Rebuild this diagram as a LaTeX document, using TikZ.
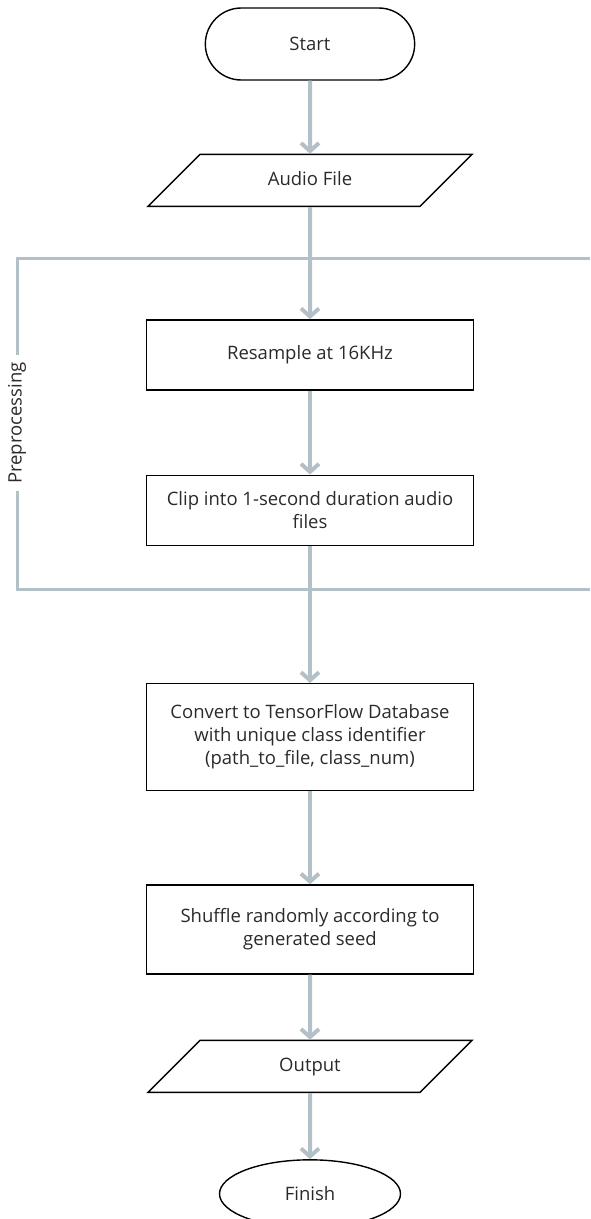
\documentclass[tikz,border=0pt]{standalone}
\usepackage{fontspec}
\setmainfont{Open Sans}
\usetikzlibrary{arrows.meta,positioning,shapes.geometric,shapes.misc}
\definecolor{linegray}{HTML}{B4C0C8}
\definecolor{textgray}{HTML}{2A2A2A}

\begin{document}
\begin{tikzpicture}[x=1pt,y=1pt,>={Straight Barb[length=8pt,width=18pt]},
	every node/.style={font=\fontsize{18.5}{23}\selectfont,text=textgray},
	terminal/.style={draw=black,line width=1.4pt,rounded rectangle,minimum width=216pt,minimum height=72pt},
	io/.style={draw=black,line width=1.4pt,trapezium,trapezium left angle=45,trapezium right angle=135,trapezium stretches body,minimum width=324pt,text height=14pt,text depth=4pt,inner xsep=0pt,inner ysep=17pt},
	process/.style={draw=black,line width=1.4pt,rectangle,minimum width=327pt,align=center},
	flow/.style={->,draw=linegray,line width=4pt},
	group/.style={draw=linegray,line width=3pt}]
	\useasboundingbox (0,0) rectangle (590,-1219);

	\node[terminal] (start) at (310,-44) {Start};
	\node[io] (audio) [below=73pt of start] {Audio File};
	\node[process,minimum height=70pt] (resample) [below=112pt of audio] {Resample at 16KHz};
	\node[process,minimum height=70pt] (clip) [below=84pt of resample] {Clip into 1-second duration audio\\files};
	\node[process,minimum height=107pt] (convert) [below=137pt of clip] {Convert to TensorFlow Database\\with unique class identifier\\(path\_to\_file, class\_num)};
	\node[process,minimum height=89pt] (shuffle) [below=93pt of convert] {Shuffle randomly according to\\generated seed};
	\node[io] (output) [below=65pt of shuffle] {Output};
	\node[draw=black,line width=1.4pt,ellipse,minimum width=181pt,minimum height=68pt,inner sep=0pt] (finish) [below=66pt of output] {Finish};

	% preprocessing frame
	\node[rotate=90,inner sep=7pt] (prelabel) at (17,-423) {Preprocessing};
	\coordinate (preTR) at (590,-258);
	\coordinate (preTL) at (17,-258);
	\coordinate (preBL) at (17,-589);
	\coordinate (preBR) at (590,-589);
	\draw[group] (preTR) -- (preTL) -- (prelabel.east);
	\draw[group] (prelabel.west) -- (preBL) -- (preBR);

	\path[flow]
	(start) edge (audio)
	(audio) edge (resample)
	(resample) edge (clip)
	(clip) edge (convert)
	(convert) edge (shuffle)
	(shuffle) edge (output)
	(output) edge (finish)
	;
\end{tikzpicture}
\end{document}
